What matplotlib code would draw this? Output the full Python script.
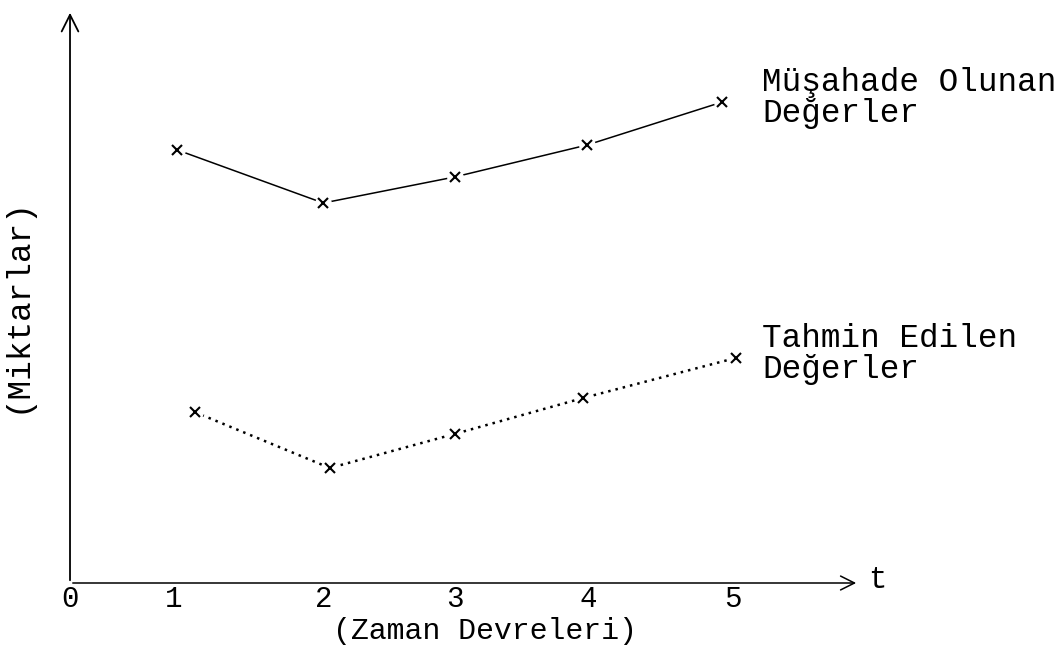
import matplotlib.pyplot as plt

plt.rcParams['font.family'] = ['Liberation Mono', 'DejaVu Sans Mono']

# time periods as typed on the page (slightly uneven spacing)
obs_t = [0.81, 1.91, 2.90, 3.90, 4.92]
obs_v = [4.33, 3.80, 4.06, 4.38, 4.81]
est_t = [0.94, 1.96, 2.90, 3.87, 5.02]
est_v = [1.71, 1.15, 1.49, 1.85, 2.25]
tick_pos = [0, 0.78, 1.91, 2.90, 3.91, 5.0]
tick_lab = ['0', '1', '2', '3', '4', '5']

fig = plt.figure(figsize=(10.63, 6.63), dpi=100)
ax = fig.add_axes([0, 0, 1, 1])
ax.set_xlim(-0.528, 7.489)
ax.set_ylim(-0.80, 5.83)
ax.axis('off')

# axes with arrows
ax.annotate('', xy=(0, 5.73), xytext=(0, 0),
            arrowprops=dict(arrowstyle='->', lw=1.3, color='k', mutation_scale=30))
ax.annotate('', xy=(5.95, 0), xytext=(0, 0),
            arrowprops=dict(arrowstyle='->', lw=1.1, color='k', mutation_scale=25))

# observed values - solid line, estimated - dotted
ax.plot(obs_t, obs_v, color='k', lw=1.1)
ax.plot(est_t, est_v, color='k', lw=1.8, ls=(0, (1, 2)))
for t, v in [(obs_t, obs_v), (est_t, est_v)]:
    ax.plot(t, v, 'o', ms=11, mfc='white', mec='white', ls='none')
    ax.plot(t, v, 'x', ms=7, mew=1.5, color='k', ls='none')

for p, s in zip(tick_pos, tick_lab):
    ax.text(p, -0.16, s, ha='center', va='center', fontsize=21)

ax.text(3.13, -0.48, '(Zaman Devreleri)', ha='center', va='center', fontsize=21.5)
ax.text(-0.40, 2.78, '(Miktarlar)', ha='center', va='center', rotation=90, fontsize=23.5)
ax.text(6.02, 0.03, 't', ha='left', va='center', fontsize=22)

ax.text(5.22, 4.85, 'Müşahade Olunan\nDeğerler', ha='left', va='center',
        fontsize=23.5, linespacing=0.98)
ax.text(5.22, 2.29, 'Tahmin Edilen\nDeğerler', ha='left', va='center',
        fontsize=23.5, linespacing=0.98)

plt.savefig('out.png', dpi=100)
